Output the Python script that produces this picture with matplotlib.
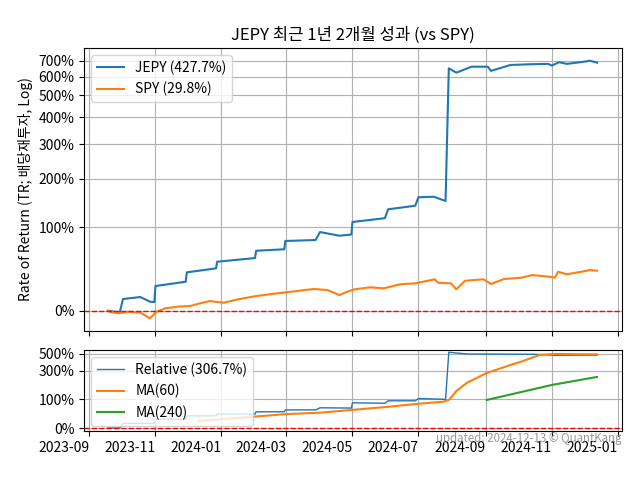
import matplotlib
matplotlib.use("Agg")
import matplotlib.pyplot as plt
import matplotlib.dates as mdates
from matplotlib.ticker import FixedLocator, NullLocator, FixedFormatter
import pandas as pd
import numpy as np

plt.rcParams['font.family'] = ['Noto Sans CJK KR', 'DejaVu Sans']
plt.rcParams['axes.unicode_minus'] = False

jepy_dates = ['2023-09-18', '2023-09-27', '2023-09-29', '2023-10-02', '2023-10-18', '2023-10-27',
              '2023-10-31', '2023-11-01', '2023-11-29', '2023-11-30', '2023-12-27', '2023-12-28',
              '2024-02-01', '2024-02-02', '2024-02-28', '2024-02-29', '2024-03-28', '2024-04-01',
              '2024-04-19', '2024-04-30', '2024-05-01', '2024-05-30', '2024-05-31', '2024-06-03',
              '2024-06-28', '2024-07-01', '2024-07-15', '2024-07-26', '2024-07-29', '2024-08-05',
              '2024-08-19', '2024-09-03', '2024-09-06', '2024-09-24', '2024-10-14', '2024-10-29',
              '2024-11-01', '2024-11-08', '2024-11-15', '2024-12-02', '2024-12-06', '2024-12-13']
jepy_ret = [0, -1.1, -1.5, 10.2, 12.1, 7.8,
            7.5, 22.8, 27.3, 37.6, 42.3, 50.3,
            55.0, 64.7, 66.7, 78.6, 80.1, 92.4,
            86.6, 88.5, 109.2, 115.7, 116.0, 132.5,
            139.5, 156.9, 158.1, 149.1, 651, 624,
            661, 661, 635, 672, 677, 679,
            668, 690, 679, 694, 700, 687]

spy_dates = ['2023-09-18', '2023-09-21', '2023-09-29', '2023-10-06', '2023-10-18', '2023-10-27',
             '2023-11-02', '2023-11-10', '2023-11-21', '2023-12-04', '2023-12-12', '2023-12-21',
             '2024-01-03', '2024-01-16', '2024-02-02', '2024-02-16', '2024-03-05', '2024-03-26',
             '2024-04-08', '2024-04-19', '2024-04-26', '2024-05-03', '2024-05-17', '2024-05-30',
             '2024-06-14', '2024-06-28', '2024-07-16', '2024-07-19', '2024-07-31', '2024-08-05',
             '2024-08-13', '2024-08-30', '2024-09-06', '2024-09-18', '2024-10-04', '2024-10-14',
             '2024-10-30', '2024-11-04', '2024-11-07', '2024-11-15', '2024-12-02', '2024-12-06',
             '2024-12-13']
spy_ret = [0, -1.3, -2.1, -0.8, -1.6, -6.1,
           -0.8, 2.0, 3.4, 4.2, 6.3, 8.4,
           6.9, 9.9, 13.0, 14.9, 17.1, 19.8,
           18.8, 13.9, 17.1, 19.5, 21.5, 20.5,
           24.6, 25.6, 29.9, 26.2, 25.6, 19.5,
           28.3, 29.9, 24.9, 30.2, 31.6, 34.5,
           32.7, 31.6, 38.3, 35.4, 39.1, 40.3,
           39.5]

rel_dates = ['2023-09-18', '2023-09-29', '2023-10-02', '2023-10-31', '2023-11-01', '2023-11-29',
             '2023-11-30', '2023-12-27', '2023-12-28', '2024-02-01', '2024-02-02', '2024-02-28',
             '2024-02-29', '2024-03-28', '2024-04-01', '2024-04-30', '2024-05-01', '2024-05-31',
             '2024-06-03', '2024-06-28', '2024-07-01', '2024-07-26', '2024-07-29', '2024-08-15',
             '2024-10-16', '2024-11-04', '2024-12-13']
rel_ret = [0, 0, 12, 12, 24, 24,
           34, 34, 40, 40, 48, 48,
           55, 55, 63, 62, 84, 82,
           93, 93, 104, 100, 525, 499,
           495, 481, 483]

ma60_dates = ['2023-12-11', '2024-03-01', '2024-04-02', '2024-05-01', '2024-06-03', '2024-06-29',
              '2024-07-24', '2024-07-29', '2024-08-02', '2024-08-05', '2024-08-15', '2024-09-02',
              '2024-09-15', '2024-09-24', '2024-10-04', '2024-10-21', '2024-11-04', '2024-12-13']
ma60_ret = [18.5, 40, 45, 55, 67, 79,
            89, 97, 122, 145, 200, 278,
            324, 360, 398, 486, 500, 493]

ma240_dates = ['2024-09-02', '2024-11-01', '2024-12-13']
ma240_ret = [97, 183, 244]

top_ticks = [0, 100, 200, 300, 400, 500, 600, 700]
bot_ticks = [0, 100, 300, 500]


def to_x(d):
    return pd.to_datetime(d)


def to_y(r):
    return 1 + np.asarray(r, dtype=float) / 100.0


fig = plt.figure(figsize=(6.4, 4.8), dpi=100)
ax1 = fig.add_axes([84 / 640, 1 - 331 / 480, 538 / 640, 283 / 480])
ax2 = fig.add_axes([84 / 640, 1 - 431 / 480, 538 / 640, 81 / 480], sharex=ax1)

ax1.plot(to_x(jepy_dates), to_y(jepy_ret), color='#1f77b4', lw=1.5, label='JEPY (427.7%)')
ax1.plot(to_x(spy_dates), to_y(spy_ret), color='#ff7f0e', lw=1.5, label='SPY (29.8%)')
ax1.axhline(1, color='red', ls='--', lw=1)
ax1.set_yscale('log')
ax1.set_ylim(0.845, 8.89)
ax1.yaxis.set_major_locator(FixedLocator(to_y(top_ticks)))
ax1.yaxis.set_major_formatter(FixedFormatter([f'{t}%' for t in top_ticks]))
ax1.yaxis.set_minor_locator(NullLocator())
ax1.grid(True)
ax1.legend(loc='upper left')
ax1.set_title('JEPY 최근 1년 2개월 성과 (vs SPY)')
ax1.set_ylabel('Rate of Return (TR; 배당재투자, Log)')
plt.setp(ax1.get_xticklabels(), visible=False)

ax2.plot(to_x(rel_dates), to_y(rel_ret), color='#1f77b4', lw=1, label='Relative (306.7%)')
ax2.plot(to_x(ma60_dates), to_y(ma60_ret), color='#ff7f0e', lw=1.5, label='MA(60)')
ax2.plot(to_x(ma240_dates), to_y(ma240_ret), color='#2ca02c', lw=1.5, label='MA(240)')
ax2.axhline(1, color='red', ls='--', lw=1)
ax2.set_yscale('log')
ax2.set_ylim(0.93, 6.6)
ax2.yaxis.set_major_locator(FixedLocator(to_y(bot_ticks)))
ax2.yaxis.set_major_formatter(FixedFormatter([f'{t}%' for t in bot_ticks]))
ax2.yaxis.set_minor_locator(NullLocator())
ax2.grid(True)
ax2.legend(loc='upper left')
ax2.xaxis.set_major_locator(mdates.MonthLocator(bymonth=[1, 3, 5, 7, 9, 11]))
ax2.xaxis.set_major_formatter(mdates.DateFormatter('%Y-%m'))
ax2.set_xlim(pd.Timestamp('2023-08-27'), pd.Timestamp('2025-01-05'))
for lbl in ax2.get_xticklabels():
    lbl.set_ha('right')
ax2.text(1.0, -0.01, 'updated: 2024-12-13 © QuantKang', transform=ax2.transAxes,
         ha='right', va='top', fontsize=8.3, color='gray', alpha=0.8)

fig.savefig('out.png', dpi=100)
